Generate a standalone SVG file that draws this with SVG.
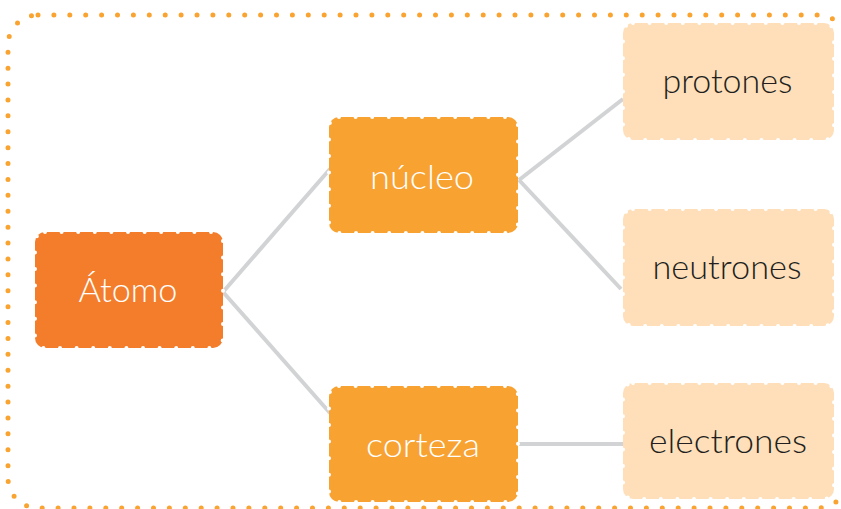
<svg xmlns="http://www.w3.org/2000/svg" width="841" height="509" viewBox="0 0 841 509">
<style>
.frame{fill:none;stroke:#F9A431;stroke-width:5;stroke-linecap:round;stroke-dasharray:0 15.9}
.box{stroke:#fff;stroke-width:4;stroke-linecap:round;stroke-dasharray:0 16.6}
.dark{fill:#F47D2B}
.mid{fill:#F8A231}
.light{fill:#FEDFBA}
.conn line{stroke:#D1D3D4;stroke-width:4;stroke-linecap:butt}
text{font-family:"Lato","Noto Sans","Liberation Sans",sans-serif;font-weight:300;font-size:33px;text-anchor:middle;lengthAdjust:spacingAndGlyphs}
.w{fill:#fff}
.k{fill:#231F20}
</style>
<rect class="frame" x="8" y="15" width="840" height="493" rx="30" ry="30"/>
<g id="connectors" class="conn">
<line x1="223" y1="292" x2="330" y2="169"/>
<line x1="223" y1="292" x2="330" y2="413"/>
<line x1="519" y1="180" x2="623" y2="99"/>
<line x1="519" y1="180" x2="621" y2="289"/>
<line x1="519" y1="444" x2="624" y2="444"/>
</g>
<g id="atomo">
<rect class="box dark" x="35" y="232" width="188" height="116" rx="10"/>
<text class="w" x="128" y="302" textLength="99" lengthAdjust="spacingAndGlyphs">Átomo</text>
</g>
<g id="nucleo">
<rect class="box mid" x="329" y="117" width="189" height="116" rx="10"/>
<text class="w" x="422" y="189" textLength="104" lengthAdjust="spacingAndGlyphs">núcleo</text>
</g>
<g id="corteza">
<rect class="box mid" x="329" y="386" width="189" height="116" rx="10"/>
<text class="w" x="423" y="457" textLength="114" lengthAdjust="spacingAndGlyphs">corteza</text>
</g>
<g id="protones">
<rect class="box light" x="623" y="23" width="211" height="117" rx="10"/>
<text class="k" x="727.5" y="93" textLength="130" lengthAdjust="spacingAndGlyphs">protones</text>
</g>
<g id="neutrones">
<rect class="box light" x="623" y="209" width="211" height="117" rx="10"/>
<text class="k" x="727" y="279" textLength="149" lengthAdjust="spacingAndGlyphs">neutrones</text>
</g>
<g id="electrones">
<rect class="box light" x="623" y="383" width="211" height="116" rx="10"/>
<text class="k" x="728" y="453" textLength="158" lengthAdjust="spacingAndGlyphs">electrones</text>
</g>
</svg>
